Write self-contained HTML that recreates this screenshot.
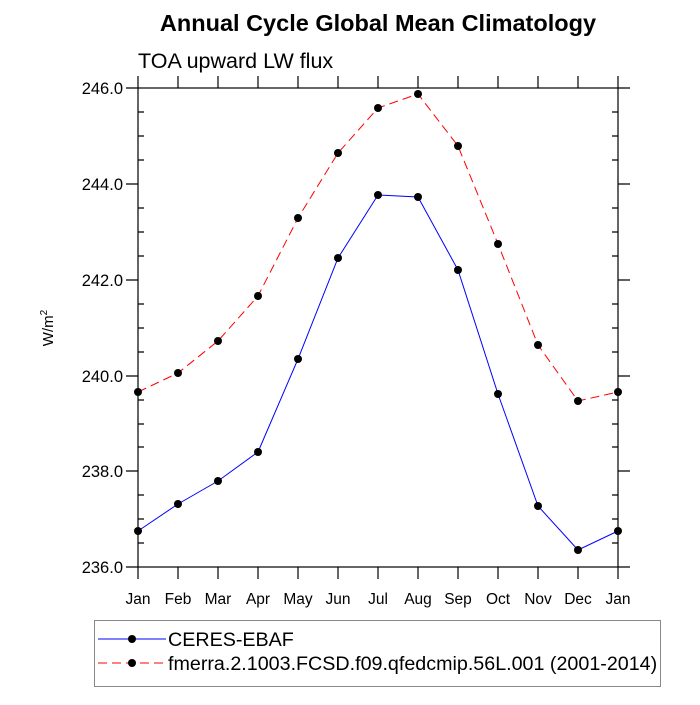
<!DOCTYPE html><html><head><style>body{margin:0;background:#fff}svg text{font-family:"Liberation Sans",sans-serif}</style></head><body>
<svg width="700" height="700" xmlns="http://www.w3.org/2000/svg">
<text x="378" y="31" font-size="23.5" font-weight="bold" text-anchor="middle">Annual Cycle Global Mean Climatology</text>
<text x="138" y="68" font-size="21.5">TOA upward LW flux</text>
<rect x="138" y="88" width="480" height="479" fill="none" stroke="#000" stroke-width="1.2"/>
<g stroke="#000" stroke-width="1.2">
<path d="M126 88H138M126 184H138M126 280H138M126 376H138M126 471H138M126 567H138M618 88H630M618 184H630M618 280H630M618 376H630M618 471H630M618 567H630"/>
<path d="M138 112H144M138 136H144M138 160H144M138 208H144M138 232H144M138 256H144M138 304H144M138 328H144M138 352H144M138 400H144M138 424H144M138 447H144M138 495H144M138 519H144M138 543H144M612 112H618M612 136H618M612 160H618M612 208H618M612 232H618M612 256H618M612 304H618M612 328H618M612 352H618M612 400H618M612 424H618M612 447H618M612 495H618M612 519H618M612 543H618"/>
<path d="M138 567V579M178 567V579M218 567V579M258 567V579M298 567V579M338 567V579M378 567V579M418 567V579M458 567V579M498 567V579M538 567V579M578 567V579M618 567V579M138 88V76M178 88V76M218 88V76M258 88V76M298 88V76M338 88V76M378 88V76M418 88V76M458 88V76M498 88V76M538 88V76M578 88V76M618 88V76"/>
</g>
<g font-size="16.5" text-anchor="end">
<text x="123" y="94">246.0</text><text x="123" y="190">244.0</text><text x="123" y="286">242.0</text><text x="123" y="382">240.0</text><text x="123" y="477">238.0</text><text x="123" y="573">236.0</text></g>
<g font-size="15.5" text-anchor="middle">
<text x="138" y="604">Jan</text><text x="178" y="604">Feb</text><text x="218" y="604">Mar</text><text x="258" y="604">Apr</text><text x="298" y="604">May</text><text x="338" y="604">Jun</text><text x="378" y="604">Jul</text><text x="418" y="604">Aug</text><text x="458" y="604">Sep</text><text x="498" y="604">Oct</text><text x="538" y="604">Nov</text><text x="578" y="604">Dec</text><text x="618" y="604">Jan</text></g>
<text transform="translate(53,328) rotate(-90)" font-size="15" text-anchor="middle">W/m<tspan font-size="10" dy="-6">2</tspan></text>
<polyline fill="none" stroke="#00f" stroke-width="1" points="138,531 178,504 218,481 258,452 298,359 338,258 378,195 418,197 458,270 498,394 538,506 578,550 618,531"/>
<polyline fill="none" stroke="#f00" stroke-width="1" stroke-dasharray="9,5" points="138,392 178,373 218,341 258,296 298,218 338,153 378,108 418,94 458,146 498,244 538,345 578,401 618,392"/>
<g fill="#000">
<circle cx="138" cy="531" r="4"/><circle cx="178" cy="504" r="4"/><circle cx="218" cy="481" r="4"/><circle cx="258" cy="452" r="4"/><circle cx="298" cy="359" r="4"/><circle cx="338" cy="258" r="4"/><circle cx="378" cy="195" r="4"/><circle cx="418" cy="197" r="4"/><circle cx="458" cy="270" r="4"/><circle cx="498" cy="394" r="4"/><circle cx="538" cy="506" r="4"/><circle cx="578" cy="550" r="4"/><circle cx="618" cy="531" r="4"/>
<circle cx="138" cy="392" r="4"/><circle cx="178" cy="373" r="4"/><circle cx="218" cy="341" r="4"/><circle cx="258" cy="296" r="4"/><circle cx="298" cy="218" r="4"/><circle cx="338" cy="153" r="4"/><circle cx="378" cy="108" r="4"/><circle cx="418" cy="94" r="4"/><circle cx="458" cy="146" r="4"/><circle cx="498" cy="244" r="4"/><circle cx="538" cy="345" r="4"/><circle cx="578" cy="401" r="4"/><circle cx="618" cy="392" r="4"/>
</g>
<rect x="94.5" y="620.5" width="566" height="66" fill="none" stroke="#888" stroke-width="1"/>
<line x1="98" y1="639" x2="166" y2="639" stroke="#00f"/>
<line x1="98" y1="663" x2="166" y2="663" stroke="#f00" stroke-dasharray="9,5"/>
<circle cx="132" cy="639" r="4"/><circle cx="132" cy="663" r="4"/>
<text x="168" y="646" font-size="19.7">CERES-EBAF</text>
<text x="168" y="670" font-size="19.7">fmerra.2.1003.FCSD.f09.qfedcmip.56L.001 (2001-2014)</text>
</svg></body></html>
